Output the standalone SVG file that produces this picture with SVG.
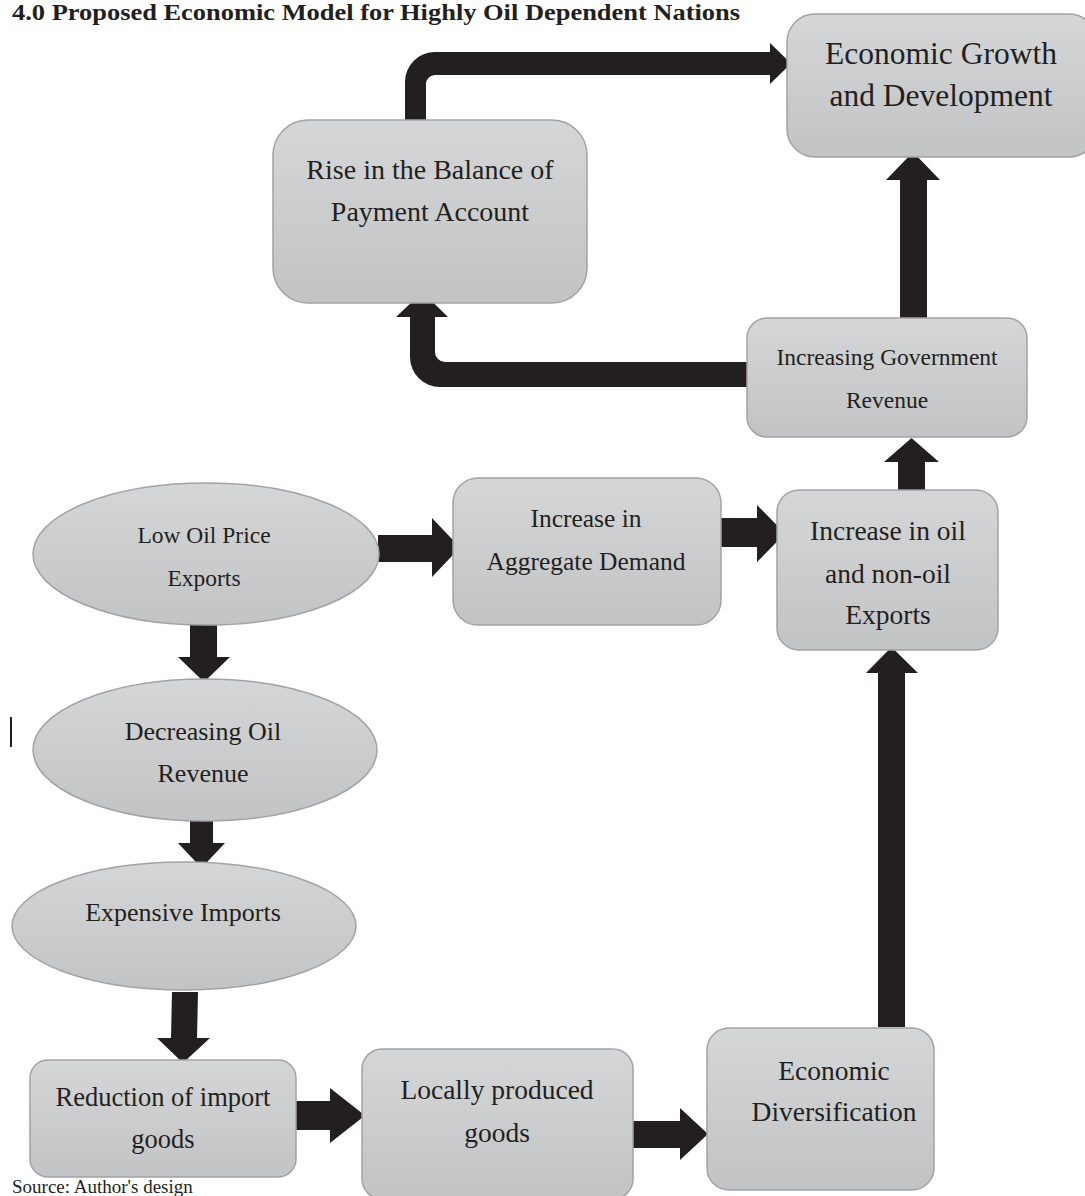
<svg xmlns="http://www.w3.org/2000/svg" width="1085" height="1196" viewBox="0 0 1085 1196">
<defs>
<linearGradient id="g" x1="0" y1="0" x2="0" y2="1">
<stop offset="0" stop-color="#d5d6d8"/>
<stop offset="1" stop-color="#c2c3c5"/>
</linearGradient>
<style>
.n{fill:url(#g);stroke:#a3a3a5;stroke-width:1.5}
.t{font-family:"Liberation Serif","Times New Roman",serif;fill:#231f20;text-anchor:middle}
.a{fill:#231f20}
</style>
</defs>
<rect width="1085" height="1196" fill="#ffffff"/>
<text x="12" y="20" font-family="Liberation Serif, serif" font-weight="bold" font-size="23" fill="#231f20" textLength="728" lengthAdjust="spacingAndGlyphs">4.0 Proposed Economic Model for Highly Oil Dependent Nations</text>
<text x="12" y="1193" font-family="Liberation Serif, serif" font-size="19" fill="#231f20">Source: Author's design</text>
<line x1="11" y1="717" x2="11" y2="747" stroke="#231f20" stroke-width="2"/>

<g id="connectors">
<path class="a" d="M405,120 L405,82 A30,30 0 0 1 435,52 L770,52 L770,43 L791,63.5 L770,84 L770,75 L435,75 A9,9 0 0 0 426,84 L426,120 Z"/>
<path class="a" d="M747,362 L445,362 A10,10 0 0 1 435,352 L435,317 L448,317 L422.5,292 L396,317 L410,317 L410,357 A30,30 0 0 0 440,387 L747,387 Z"/>
<polygon class="a" points="900,318 900,180 886,180 913,152 940,180 927,180 927,318"/>
<polygon class="a" points="898,490 898,462 884,462 911.5,438 939,462 925,462 925,490"/>
<polygon class="a" points="378,535 432,535 432,518 460,547.5 432,577 432,562 378,562"/>
<polygon class="a" points="721,518 757,518 757,505 785,533.5 757,562 757,547 721,547"/>
<polygon class="a" points="190,612 217,612 217,657 230,657 204,682 178,657 190,657"/>
<polygon class="a" points="190,815 213,815 213,843 225,843 201.5,868 178,843 190,843"/>
<polygon class="a" points="172,992 198,992 197,1038 210,1038 183,1063 157,1038 171,1038"/>
<polygon class="a" points="296,1101 330,1101 330,1088 365,1115.5 330,1143 330,1130 296,1130"/>
<polygon class="a" points="633,1121 680,1121 680,1108 708,1134 680,1160 680,1148 633,1148"/>
<polygon class="a" points="878,1027 878,673 866,673 891.5,647 918,673 905,673 905,1027"/>
</g>

<g id="economic-growth">
<rect class="n" x="787" y="14" width="310" height="143" rx="28"/>
<text class="t" font-size="31.5" x="941" y="64">Economic Growth</text>
<text class="t" font-size="31.5" x="941" y="106">and Development</text>
</g>
<g id="balance-of-payment">
<rect class="n" x="273" y="120" width="314" height="183" rx="35"/>
<text class="t" font-size="28" x="430" y="179">Rise in the Balance of</text>
<text class="t" font-size="28" x="430" y="221">Payment Account</text>
</g>
<g id="government-revenue">
<rect class="n" x="747" y="318" width="280" height="119" rx="20"/>
<text class="t" font-size="23.5" x="887" y="365">Increasing Government</text>
<text class="t" font-size="23.5" x="887" y="408">Revenue</text>
</g>
<g id="low-oil-price">
<ellipse class="n" cx="206" cy="554" rx="173" ry="71"/>
<text class="t" font-size="23.5" x="204" y="543">Low Oil Price</text>
<text class="t" font-size="23.5" x="204" y="586">Exports</text>
</g>
<g id="aggregate-demand">
<rect class="n" x="453" y="478" width="268" height="147" rx="25"/>
<text class="t" font-size="25.5" x="586" y="527">Increase in</text>
<text class="t" font-size="25.5" x="586" y="570">Aggregate Demand</text>
</g>
<g id="exports">
<rect class="n" x="777" y="490" width="221" height="160" rx="22"/>
<text class="t" font-size="27.5" x="888" y="540">Increase in oil</text>
<text class="t" font-size="27.5" x="888" y="583">and non-oil</text>
<text class="t" font-size="27.5" x="888" y="624">Exports</text>
</g>
<g id="decreasing-oil-revenue">
<ellipse class="n" cx="205" cy="750" rx="172" ry="71"/>
<text class="t" font-size="26" x="203" y="740">Decreasing Oil</text>
<text class="t" font-size="26" x="203" y="782">Revenue</text>
</g>
<g id="expensive-imports">
<ellipse class="n" cx="184" cy="926" rx="172" ry="64"/>
<text class="t" font-size="26" x="183" y="921">Expensive Imports</text>
</g>
<g id="reduction-of-imports">
<rect class="n" x="30" y="1060" width="266" height="117" rx="18"/>
<text class="t" font-size="26.5" x="163" y="1106">Reduction of import</text>
<text class="t" font-size="26.5" x="163" y="1148">goods</text>
</g>
<g id="locally-produced">
<rect class="n" x="362" y="1049" width="271" height="150" rx="20"/>
<text class="t" font-size="27.5" x="497" y="1099">Locally produced</text>
<text class="t" font-size="27.5" x="497" y="1142">goods</text>
</g>
<g id="diversification">
<rect class="n" x="707" y="1028" width="227" height="162" rx="22"/>
<text class="t" font-size="27.5" x="834" y="1080">Economic</text>
<text class="t" font-size="27.5" x="834" y="1121">Diversification</text>
</g>
</svg>
